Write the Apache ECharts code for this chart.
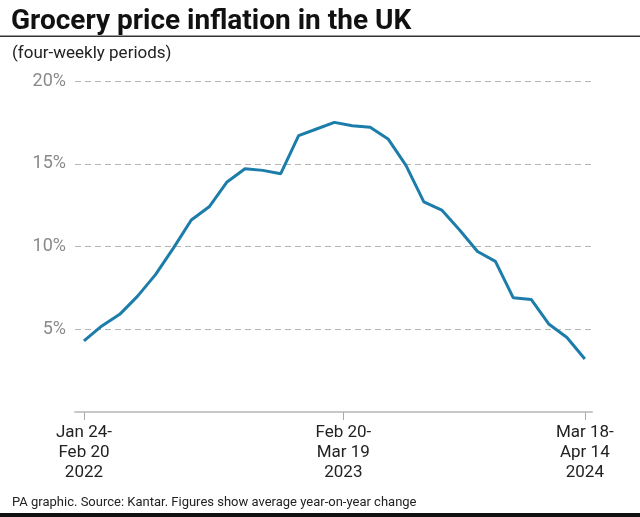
<!DOCTYPE html>
<html>
<head>
<meta charset="utf-8">
<script src="https://cdn.jsdelivr.net/npm/echarts@6/dist/echarts.min.js"></script>
<style>
  html, body { margin: 0; padding: 0; background: #ffffff; }
  #chart { width: 640px; height: 517px; }
</style>
</head>
<body>
<div id="chart"></div>
<script>
// Four-weekly periods, Jan 24-Feb 20 2022 ... Mar 18-Apr 14 2024 (29 periods)
const periodIndex = [0,1,2,3,4,5,6,7,8,9,10,11,12,13,14,15,16,17,18,19,20,21,22,23,24,25,26,27,28];
// Grocery price inflation, % year-on-year
const inflation = [4.3,5.2,5.9,7.0,8.3,9.9,11.6,12.4,13.9,14.7,14.6,14.4,16.7,17.1,17.5,17.3,17.2,16.5,14.9,12.7,12.2,11.0,9.7,9.1,6.9,6.8,5.3,4.5,3.2];
// Labelled x ticks (period index as drawn in the source graphic) and their labels
const xTickValues = [0, 14.5, 28];
const xTickLabels = ['Jan 24-\nFeb 20\n2022', 'Feb 20-\nMar 19\n2023', 'Mar 18-\nApr 14\n2024'];
const yTicks = [0, 5, 10, 15, 20];

const FONT = 'Roboto, "Liberation Sans", sans-serif';
const chart = echarts.init(document.getElementById('chart'), null, { renderer: 'canvas' });

const seriesData = periodIndex.map((i, k) => [i, inflation[k]]);

chart.setOption({
  animation: false,
  backgroundColor: '#ffffff',
  title: [
    {
      text: 'Grocery price inflation in the UK',
      left: 6, top: 3,
      textStyle: { fontFamily: FONT, fontWeight: 'bold', fontSize: 28, color: '#111111' }
    },
    {
      text: '(four-weekly periods)',
      left: 7, top: 40,
      textStyle: { fontFamily: FONT, fontWeight: 'normal', fontSize: 17, color: '#222222' }
    },
    {
      text: 'PA graphic. Source: Kantar. Figures show average year-on-year change',
      left: 7, top: 491,
      textStyle: { fontFamily: FONT, fontWeight: 'normal', fontSize: 13, color: '#222222' }
    }
  ],
  graphic: [
    { type: 'rect', shape: { x: 0, y: 35.5, width: 640, height: 1.5 }, style: { fill: '#333333' } },
    { type: 'rect', shape: { x: 0, y: 513, width: 640, height: 4 }, style: { fill: '#111111' } }
  ],
  grid: { left: 75, right: 48, top: 81, bottom: 105, containLabel: false },
  xAxis: {
    type: 'value',
    min: -0.5,
    max: 28.4,
    axisLine: { show: true, lineStyle: { color: '#c8c8c8', width: 2 } },
    axisTick: { show: true, customValues: xTickValues, length: 8, lineStyle: { color: '#aaaaaa', width: 1 } },
    axisLabel: {
      show: true,
      customValues: xTickValues,
      formatter: function (v) {
        const k = xTickValues.indexOf(v);
        return k >= 0 ? xTickLabels[k] : '';
      },
      fontFamily: FONT, fontSize: 17, lineHeight: 20, color: '#222222', margin: 11
    },
    splitLine: { show: false }
  },
  yAxis: {
    type: 'value',
    min: yTicks[0],
    max: yTicks[yTicks.length - 1],
    interval: 5,
    axisLine: { show: false },
    axisTick: { show: false },
    axisLabel: {
      showMinLabel: false,
      formatter: '{value}%',
      fontFamily: FONT, fontSize: 18, color: '#8a8a8a', margin: 9
    },
    splitLine: { show: true, lineStyle: { color: '#b5b5b5', width: 1, type: [6, 4] } }
  },
  series: [{
    type: 'line',
    data: seriesData,
    showSymbol: false,
    symbol: 'none',
    lineStyle: { color: '#1c7dab', width: 3 },
    z: 3
  }]
});
</script>
</body>
</html>
